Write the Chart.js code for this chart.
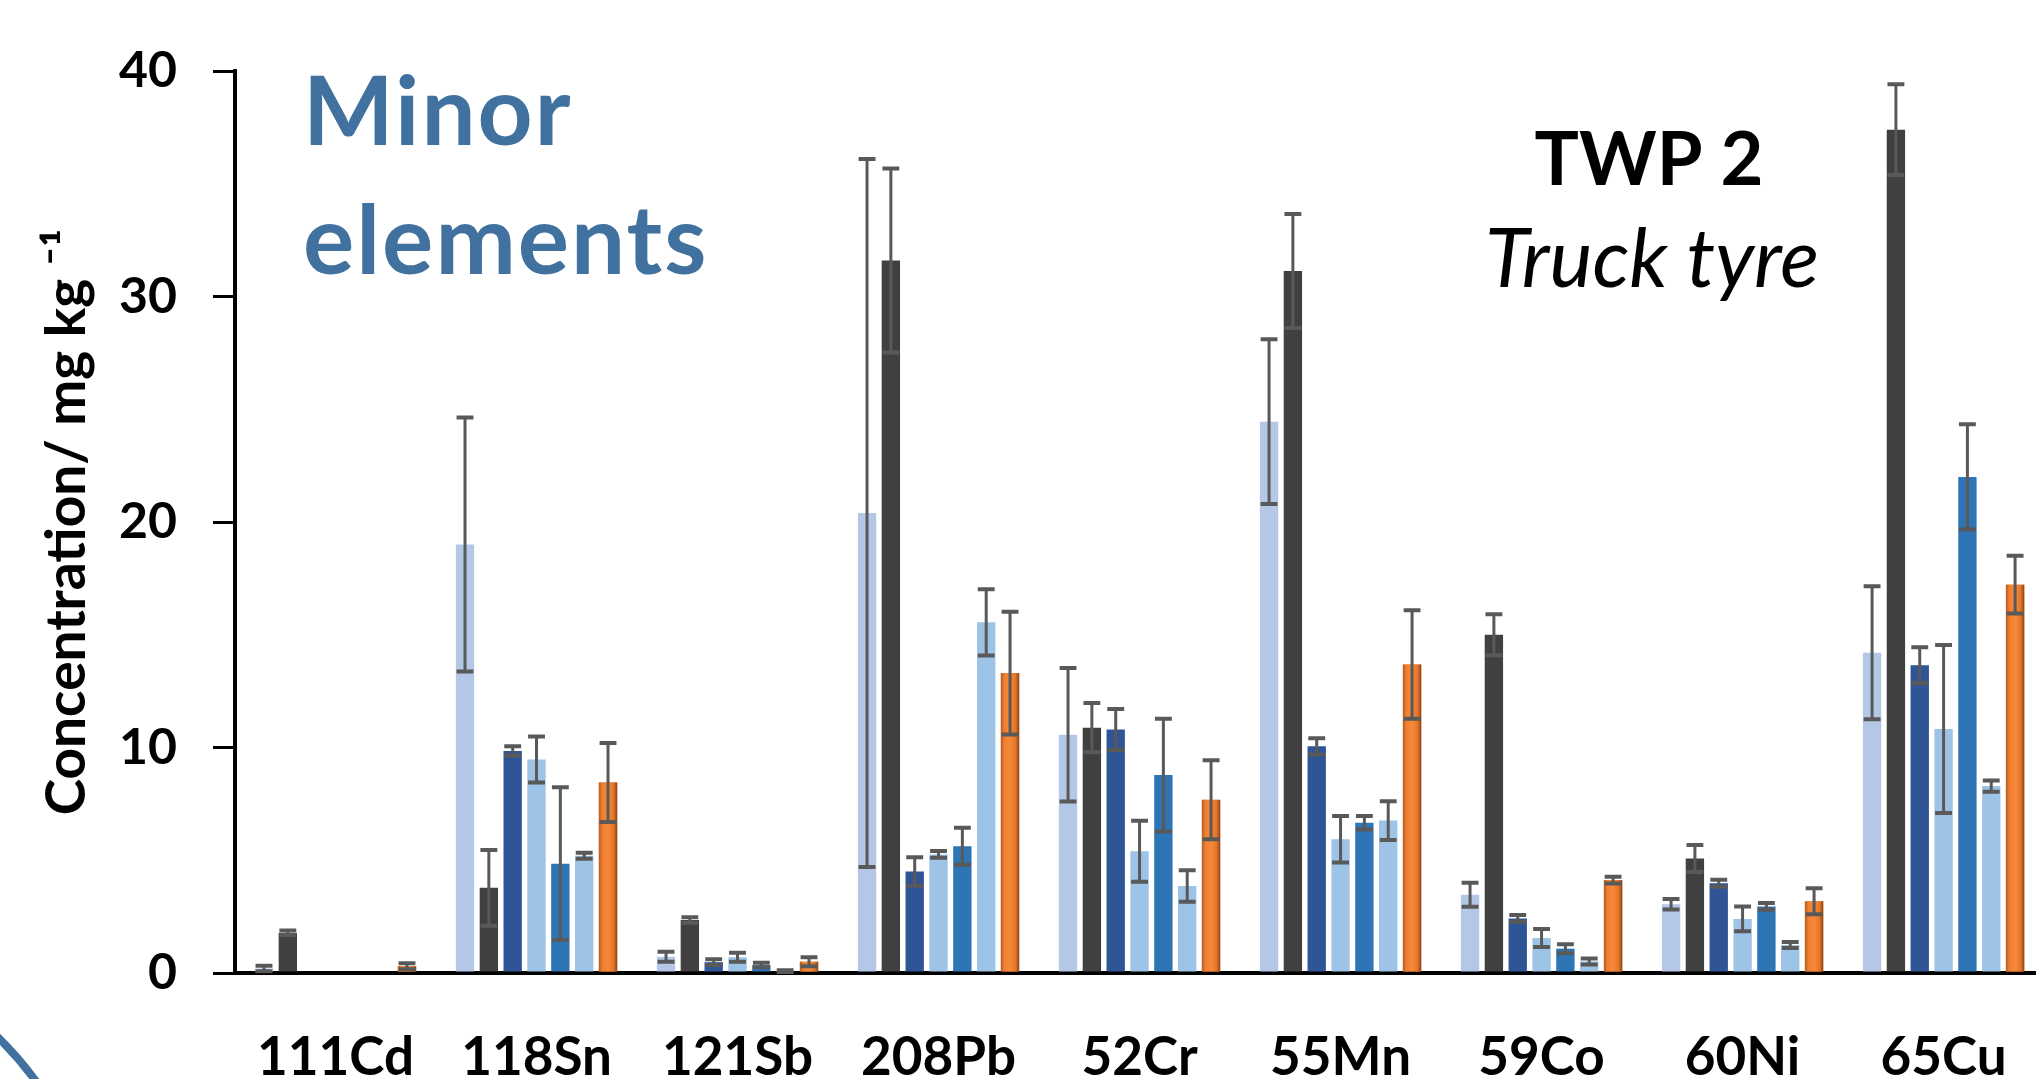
<!DOCTYPE html>
<html>
<head>
<meta charset="utf-8">
<title>Minor elements - TWP 2</title>
<script src="https://cdn.jsdelivr.net/npm/chart.js@4.4.1/dist/chart.umd.min.js"></script>
<style>
  html, body { margin: 0; padding: 0; background: #fff; overflow: hidden; }
  #wrap { position: relative; width: 2060px; height: 1079px; }
</style>
</head>
<body>
<div id="wrap"><canvas id="chart" width="2060" height="1079"></canvas></div>
<script>
// categories (isotopes)
const elements = ['111Cd', '118Sn', '121Sb', '208Pb', '52Cr', '55Mn', '59Co', '60Ni', '65Cu'];
const yTicks = [0, 10, 20, 30, 40];

// mean concentrations, mg/kg, one array per sample
const s1 = [0.2, 19.0, 0.72, 20.4, 10.56, 24.45, 3.47, 3.05, 14.2];
const s2 = [1.78, 3.78, 2.35, 31.6, 10.88, 31.13, 15.0, 5.08, 37.4];
const s3 = [0, 9.85, 0.48, 4.5, 10.8, 10.05, 2.42, 3.98, 13.65];
const s4 = [0, 9.47, 0.7, 5.26, 5.4, 5.93, 1.55, 2.4, 10.82];
const s5 = [0, 4.85, 0.35, 5.62, 8.78, 6.66, 1.08, 2.95, 22.0];
const s6 = [0, 5.2, 0.08, 15.55, 3.86, 6.76, 0.51, 1.24, 8.29];
const s7 = [0.3, 8.45, 0.5, 13.3, 7.68, 13.68, 4.12, 3.18, 17.22];

// standard deviations (symmetric error bars)
const e1 = [0.12, 5.63, 0.22, 15.7, 2.96, 3.65, 0.53, 0.23, 2.95];
const e2 = [0.1, 1.68, 0.12, 4.08, 1.09, 2.53, 0.91, 0.6, 2.01];
const e3 = [0, 0.2, 0.13, 0.63, 0.91, 0.36, 0.15, 0.15, 0.8];
const e4 = [0, 1.02, 0.2, 0.15, 1.35, 1.03, 0.4, 0.55, 3.73];
const e5 = [0, 3.39, 0.1, 0.82, 2.5, 0.3, 0.2, 0.15, 2.33];
const e6 = [0, 0.13, 0.04, 1.47, 0.7, 0.86, 0.13, 0.13, 0.25];
const e7 = [0.13, 1.75, 0.2, 2.72, 1.75, 2.41, 0.15, 0.58, 1.28];

const colors = ['#B4C7E7', '#404040', '#2F5597', '#9DC3E6', '#2E75B6', '#9DC3E6', '#ED7D31'];
const series = [s1, s2, s3, s4, s5, s6, s7];
const errors = [e1, e2, e3, e4, e5, e6, e7];

const font = 'Lato';

// orange bars get a shaded (cylinder-like) fill
const cylinder = {
    id: 'cylinder',
    afterDatasetDraw(chart, args) {
        if (args.index !== 6) return;
        const ctx = chart.ctx;
        ctx.save();
        args.meta.data.forEach(bar => {
            const left = bar.x - bar.width / 2;
            const h = bar.base - bar.y;
            if (h <= 0) return;
            const g = ctx.createLinearGradient(left, 0, left + bar.width, 0);
            g.addColorStop(0, '#B35A1E');
            g.addColorStop(0.18, '#EE7E32');
            g.addColorStop(0.5, '#F7893B');
            g.addColorStop(0.8, '#E47629');
            g.addColorStop(1, '#8A4414');
            ctx.fillStyle = g;
            ctx.fillRect(left, bar.y, bar.width, h);
        });
        ctx.restore();
    }
};

// error bars drawn from the y scale
const errorBars = {
    id: 'errorBars',
    afterDatasetsDraw(chart) {
        const ctx = chart.ctx;
        const y = chart.scales.y;
        ctx.save();
        ctx.strokeStyle = '#595959';
        chart.data.datasets.forEach((ds, i) => {
            const meta = chart.getDatasetMeta(i);
            meta.data.forEach((bar, j) => {
                const e = ds.err[j];
                if (!e) return;
                const v = ds.data[j];
                const top = y.getPixelForValue(v + e);
                const bot = y.getPixelForValue(Math.max(v - e, 0));
                const half = bar.width * 0.46;
                ctx.lineWidth = 3;
                ctx.beginPath();
                ctx.moveTo(bar.x, top);
                ctx.lineTo(bar.x, bot);
                ctx.stroke();
                ctx.lineWidth = 4;
                ctx.beginPath();
                ctx.moveTo(bar.x - half, top);
                ctx.lineTo(bar.x + half, top);
                ctx.moveTo(bar.x - half, bot);
                ctx.lineTo(bar.x + half, bot);
                ctx.stroke();
            });
        });
        ctx.restore();
    }
};

// panel texts and the decorative arc
const notes = {
    id: 'notes',
    afterDraw(chart) {
        const ctx = chart.ctx;
        ctx.save();
        ctx.textBaseline = 'alphabetic';
        ctx.fillStyle = '#41719F';
        ctx.textAlign = 'left';
        ctx.font = `bold 96px ${font}`;
        ctx.letterSpacing = '2px';
        ctx.fillText('Minor', 303, 145);
        ctx.fillText('elements', 303, 274);
        ctx.letterSpacing = '0px';

        ctx.fillStyle = '#000';
        ctx.textAlign = 'center';
        ctx.font = `bold 74px ${font}`;
        ctx.fillText('TWP 2', 1649, 185);
        ctx.font = `italic 81px ${font}`;
        ctx.fillText('Truck tyre', 1652, 287);

        ctx.strokeStyle = '#41719F';
        ctx.lineWidth = 8;
        ctx.beginPath();
        ctx.arc(-250, 1290, 354, -1.4, -0.2);
        ctx.stroke();
        ctx.restore();
    }
};

const chart = new Chart(document.getElementById('chart'), {
    type: 'bar',
    data: {
        labels: elements,
        datasets: series.map((d, i) => ({
            label: 'Sample ' + (i + 1),
            data: d,
            err: errors[i],
            backgroundColor: colors[i],
            borderWidth: 0
        }))
    },
    options: {
        responsive: false,
        animation: false,
        devicePixelRatio: 1,
        layout: { padding: { left: 0, right: 7, top: 71, bottom: 0 } },
        datasets: { bar: { categoryPercentage: 0.83, barPercentage: 0.77 } },
        plugins: {
            legend: { display: false },
            tooltip: { enabled: false }
        },
        scales: {
            x: {
                grid: { display: false, drawTicks: false },
                border: { display: true, color: '#000', width: 4 },
                ticks: {
                    color: '#000',
                    font: { family: font, weight: 'bold', size: 53 },
                    padding: 53,
                    maxRotation: 0,
                    autoSkip: false
                },
                afterFit(s) { s.height = 106; }
            },
            y: {
                min: yTicks[0],
                max: yTicks[yTicks.length - 1],
                afterBuildTicks(s) { s.ticks = yTicks.map(v => ({ value: v })); },
                ticks: {
                    color: '#000',
                    font: { family: font, weight: 'bold', size: 50 },
                    padding: 36
                },
                grid: { drawOnChartArea: false, color: '#000', lineWidth: 3, tickLength: 22 },
                border: { color: '#000', width: 4 },
                title: {
                    display: true,
                    text: 'Concentration/ mg kg \u207B\u00B9',
                    color: '#000',
                    font: { family: font, weight: 'bold', size: 55 },
                    padding: { top: 34, bottom: 0 }
                },
                afterFit(s) { s.width = 235; }
            }
        }
    },
    plugins: [cylinder, errorBars, notes]
});
</script>
</body>
</html>
